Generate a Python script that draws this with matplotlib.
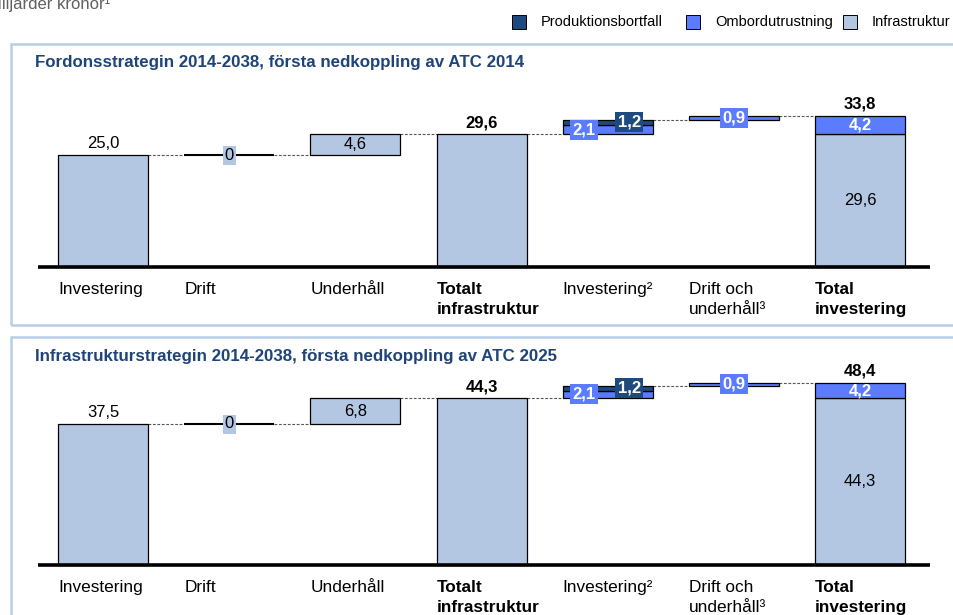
import matplotlib
matplotlib.use("Agg")
import matplotlib.pyplot as plt
from matplotlib.patches import Rectangle

plt.rcParams['font.family'] = ['Liberation Sans', 'DejaVu Sans']

# ---------------- data ----------------
categories = ["Investering", "Drift", "Underhåll", "Totalt\ninfrastruktur",
              "Investering²", "Drift och\nunderhåll³", "Total\ninvestering"]
bold_cats = [False, False, False, True, False, False, True]

titles = ["Fordonsstrategin 2014-2038, första nedkoppling av ATC 2014",
          "Infrastrukturstrategin 2014-2038, första nedkoppling av ATC 2025"]

infra_steps = [[25.0, 0.0, 4.6], [37.5, 0.0, 6.8]]      # Investering, Drift, Underhåll
infra_total = [29.6, 44.3]
ombord_invest = [2.1, 2.1]
prod_invest = [1.2, 1.2]
ombord_drift = [0.9, 0.9]
ombord_total = [4.2, 4.2]
grand_total = [33.8, 48.4]

legend_labels = ["Produktionsbortfall", "Ombordutrustning", "Infrastruktur"]

C_PROD = "#1f4a80"
C_OMB = "#5c7cff"
C_INF = "#b3c7e3"
C_TITLE = "#1f4479"
C_BORDER = "#b8cde6"

W, H = 954, 615
fig = plt.figure(figsize=(W / 100, H / 100), dpi=100)

def fx(px):
    return px / W

def fy(py):
    return 1 - py / H

# panel geometry (pixels): top, bottom, baseline, px per unit
panels = [dict(top=44, bot=325, base=267, scale=4.48, title_y=63),
          dict(top=337, bot=620, base=565, scale=3.76, title_y=356)]

x0_px, dx_px = 103, 126.2
bw = 90 / dx_px

def fmt(v):
    return f"{v:.1f}".replace(".", ",")

for p, pan in enumerate(panels):
    # border
    fig.patches.append(Rectangle((fx(11), fy(pan['bot'])), fx(960) - fx(11),
                                 fy(pan['top']) - fy(pan['bot']),
                                 transform=fig.transFigure, fill=False,
                                 ec=C_BORDER, lw=1.8, zorder=0))
    fig.text(fx(35), fy(pan['title_y']), titles[p], fontsize=12.2, fontweight='bold',
             color=C_TITLE, va='center', ha='left')

    ax = fig.add_axes([0, fy(pan['bot']), 1, fy(pan['top']) - fy(pan['bot'])])
    ax.set_xlim(-x0_px / dx_px, (W - x0_px) / dx_px)
    ax.set_ylim(-(pan['bot'] - pan['base']) / pan['scale'],
                (pan['base'] - pan['top']) / pan['scale'])
    ax.axis('off')

    steps = infra_steps[p]
    # waterfall infra bars
    bottoms = [0.0, steps[0], steps[0] + steps[1]]
    for i in range(3):
        ax.bar(i, steps[i], bottom=bottoms[i], width=bw, color=C_INF,
               edgecolor='black', linewidth=1.5 if steps[i] == 0 else 0.9, zorder=3)
    ax.bar(3, infra_total[p], width=bw, color=C_INF, edgecolor='black', linewidth=0.9, zorder=3)
    # Investering² stacked
    b4 = infra_total[p]
    ax.bar(4, ombord_invest[p], bottom=b4, width=bw, color=C_OMB, edgecolor='black', linewidth=0.9, zorder=3)
    ax.bar(4, prod_invest[p], bottom=b4 + ombord_invest[p], width=bw, color=C_PROD,
           edgecolor='black', linewidth=0.9, zorder=3)
    b5 = b4 + ombord_invest[p] + prod_invest[p]
    ax.bar(5, ombord_drift[p], bottom=b5, width=bw, color=C_OMB, edgecolor='black', linewidth=0.9, zorder=3)
    # total
    ax.bar(6, infra_total[p], width=bw, color=C_INF, edgecolor='black', linewidth=0.9, zorder=3)
    ax.bar(6, ombord_total[p], bottom=infra_total[p], width=bw, color=C_OMB,
           edgecolor='black', linewidth=0.9, zorder=3)

    # connectors
    levels = [steps[0], steps[0] + steps[1], infra_total[p], infra_total[p], b5,
              b5 + ombord_drift[p]]
    for i, lv in enumerate(levels):
        ax.plot([i + bw / 2, i + 1 - bw / 2], [lv, lv], color='#555555', lw=0.8,
                ls=(0, (2.5, 1.5)), zorder=2)

    # baseline
    ax.plot([(38 - x0_px) / dx_px, (930 - x0_px) / dx_px], [0, 0], color='black',
            lw=2.6, solid_capstyle='butt', zorder=4)

    # value labels
    ax.annotate(fmt(steps[0]), (0, steps[0]), xytext=(0, 3), textcoords='offset points',
                ha='center', va='bottom', fontsize=12)
    ax.text(1, bottoms[1], "0", ha='center', va='center', fontsize=12, zorder=5,
            bbox=dict(boxstyle='square,pad=0.12', fc=C_INF, ec='none'))
    ax.text(2, bottoms[2] + steps[2] / 2, fmt(steps[2]), ha='center', va='center', fontsize=12, zorder=5)
    ax.annotate(fmt(infra_total[p]), (3, infra_total[p]), xytext=(0, 3), textcoords='offset points',
                ha='center', va='bottom', fontsize=12, fontweight='bold')
    ax.text(4 - 0.19, b4 + ombord_invest[p] / 2, fmt(ombord_invest[p]), ha='center', va='center',
            fontsize=12, fontweight='bold', color='white', zorder=6,
            bbox=dict(boxstyle='square,pad=0.15', fc=C_OMB, ec='none'))
    ax.text(4 + 0.17, b4 + ombord_invest[p] + prod_invest[p] / 2, fmt(prod_invest[p]),
            ha='center', va='center', fontsize=12, fontweight='bold', color='white', zorder=6,
            bbox=dict(boxstyle='square,pad=0.15', fc=C_PROD, ec='none'))
    ax.text(5, b5 + ombord_drift[p] / 2, fmt(ombord_drift[p]), ha='center', va='center',
            fontsize=12, fontweight='bold', color='white', zorder=6,
            bbox=dict(boxstyle='square,pad=0.15', fc=C_OMB, ec='none'))
    ax.annotate(fmt(grand_total[p]), (6, infra_total[p] + ombord_total[p]), xytext=(0, 3),
                textcoords='offset points', ha='center', va='bottom', fontsize=12, fontweight='bold')
    ax.text(6, infra_total[p] + ombord_total[p] / 2, fmt(ombord_total[p]), ha='center', va='center',
            fontsize=12, fontweight='bold', color='white', zorder=6)
    ax.text(6, infra_total[p] / 2, fmt(infra_total[p]), ha='center', va='center', fontsize=12, zorder=6)

    # category labels
    for i, (c, b) in enumerate(zip(categories, bold_cats)):
        ax.annotate(c, (i - bw / 2, 0), xytext=(0, -11), textcoords='offset points',
                    ha='left', va='top', fontsize=12.4, fontweight='bold' if b else 'normal',
                    linespacing=1.42, annotation_clip=False)

# top unit label
fig.text(fx(-12), fy(9), "Miljarder kronor¹", fontsize=12, color='#606060', ha='left', va='baseline')

# legend
leg_cols = [C_PROD, C_OMB, C_INF]
sq_x = [512, 686, 843]
for lab, col, sx in zip(legend_labels, leg_cols, sq_x):
    fig.patches.append(Rectangle((fx(sx), fy(29)), fx(14), fy(15) - fy(29),
                                 transform=fig.transFigure, fc=col, ec='black', lw=0.7))
    fig.text(fx(sx + 29), fy(22), lab, fontsize=10.5, ha='left', va='center')

fig.savefig("out.png", dpi=100)
